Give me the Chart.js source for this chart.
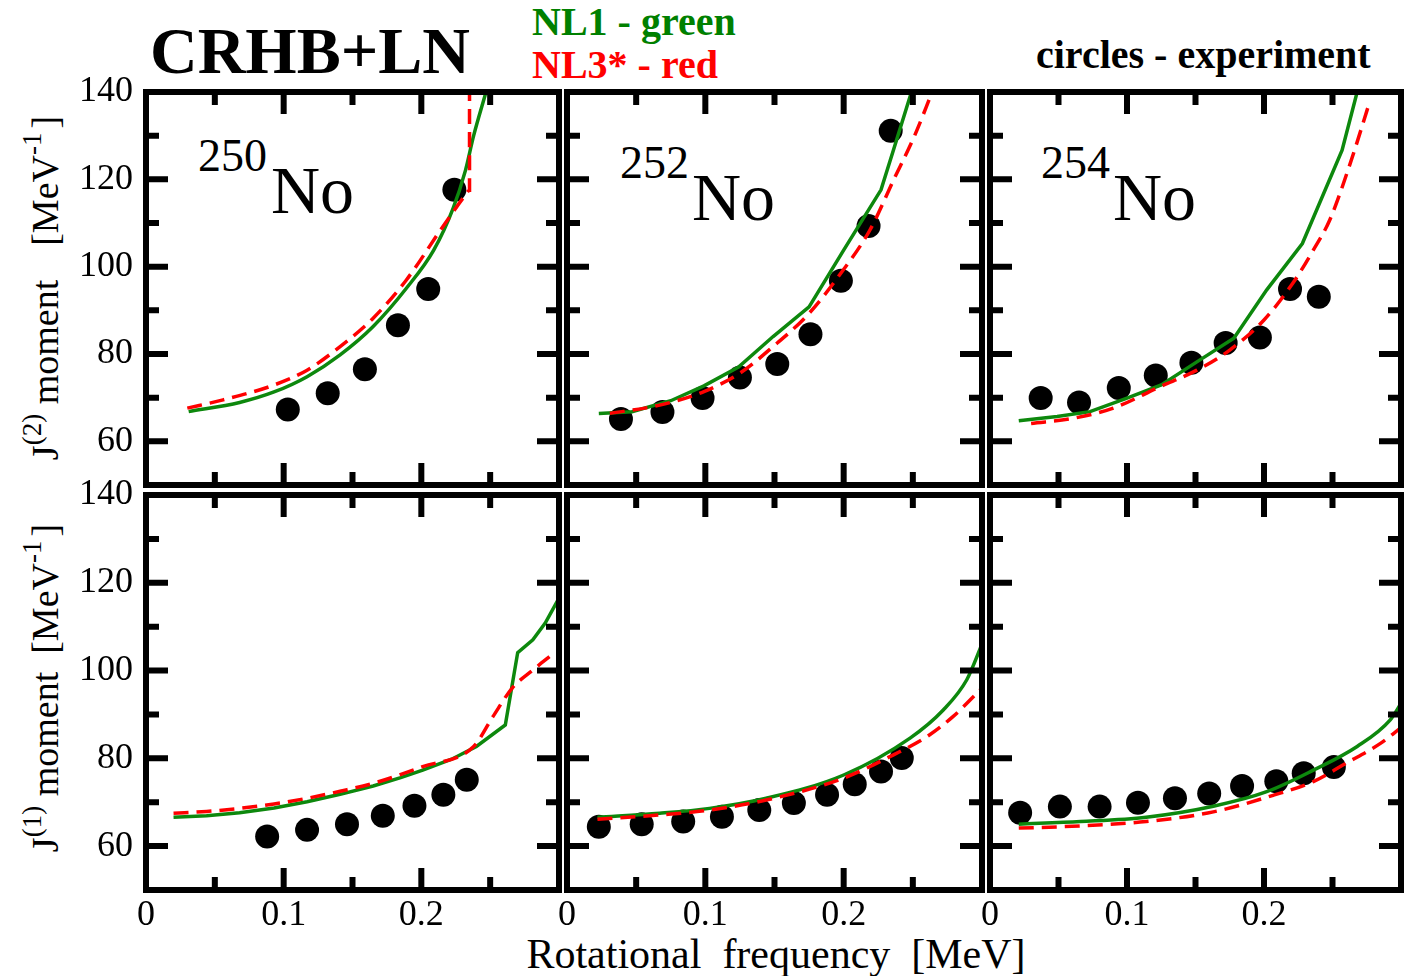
<!DOCTYPE html>
<html>
<head>
<meta charset="utf-8">
<script src="https://cdn.jsdelivr.net/npm/chart.js@4.4.1/dist/chart.umd.min.js"></script>
<style>
  html, body { margin: 0; padding: 0; background: #fff; }
  body { width: 1404px; height: 976px; overflow: hidden; position: relative;
         font-family: "Liberation Serif", "DejaVu Serif", serif; color: #000; }
  canvas { position: absolute; }
  .t { position: absolute; white-space: nowrap; line-height: 1; }
  .b { font-weight: bold; }
  .sup { font-size: 27px; line-height: 0; vertical-align: 17px; }
  .gap { display: inline-block; }
</style>
</head>
<body>

<div class="t b" style="left:150px; top:17.7px; font-size:66px;">CRHB+LN</div>
<div class="t b" style="left:532px; top:1.5px; font-size:40px; color:#008000;">NL1 - green</div>
<div class="t b" style="left:532px; top:44.5px; font-size:40px; color:#ff0000;">NL3* - red</div>
<div class="t b" style="left:1036px; top:34.5px; font-size:40px;">circles - experiment</div>

<div class="t" style="left:198px; top:132.6px; font-size:46px;">250</div>
<div class="t" style="left:271px; top:156px; font-size:68px;">No</div>
<div class="t" style="left:620px; top:139.6px; font-size:46px;">252</div>
<div class="t" style="left:692px; top:163px; font-size:68px;">No</div>
<div class="t" style="left:1041px; top:139.6px; font-size:46px;">254</div>
<div class="t" style="left:1113px; top:163px; font-size:68px;">No</div>

<div class="t" style="left:45px; top:288px; font-size:38px; transform:translate(-50%,-50%) rotate(-90deg);">J<span class="sup">(2)</span>&nbsp;moment<span class="gap" style="width:34px"></span>[MeV<span class="sup">-1</span><span class="gap" style="width:4px"></span>]</div>
<div class="t" style="left:45px; top:688px; font-size:38px; transform:translate(-50%,-50%) rotate(-90deg);">J<span class="sup">(1)</span>&nbsp;moment<span class="gap" style="width:18px"></span>[MeV<span class="sup">-1</span><span class="gap" style="width:4px"></span>]</div>

<div class="t" style="left:776px; top:932.8px; font-size:42px; transform:translateX(-50%);">Rotational&nbsp; frequency&nbsp; [MeV]</div>

<script>
// Axis ticks
const xTicks = [0, 0.1, 0.2];
const yTicks = [60, 80, 100, 120, 140];
const xMajor = [0.1, 0.2];
const xMinor = [0.05, 0.15, 0.25];
const yMajor = [60, 80, 100, 120];
const yMinor = [70, 90, 110, 130];

// 250No, J(2)
const no250J2ExpW = [0.103, 0.132, 0.159, 0.183, 0.205, 0.224];
const no250J2Exp  = [67.3, 71.0, 76.5, 86.6, 94.9, 117.6];
const no250J2Nl1W = [0.031, 0.068, 0.093, 0.117, 0.141, 0.165, 0.189, 0.209, 0.223, 0.232, 0.238, 0.247];
const no250J2Nl1  = [66.8, 68.9, 71.3, 74.8, 79.8, 86.3, 95.0, 103.8, 113.3, 122.0, 130.0, 140];
const no250J2Nl3W = [0.030, 0.056, 0.093, 0.117, 0.141, 0.165, 0.189, 0.214, 0.232, 0.235, 0.235];
const no250J2Nl3  = [67.6, 69.5, 72.9, 76.3, 81.7, 88.2, 96.9, 108.4, 116.4, 117.5, 140];

// 252No, J(2)
const no252J2ExpW = [0.039, 0.069, 0.098, 0.125, 0.152, 0.176, 0.198, 0.218, 0.234];
const no252J2Exp  = [65.1, 66.7, 69.9, 74.6, 77.7, 84.5, 96.8, 109.3, 131.1];
const no252J2Nl1W = [0.023, 0.047, 0.075, 0.099, 0.124, 0.149, 0.175, 0.200, 0.227, 0.236, 0.249];
const no252J2Nl1  = [66.4, 66.8, 69.3, 72.7, 77.0, 84.0, 90.8, 103.8, 117.6, 126.7, 140];
const no252J2Nl3W = [0.031, 0.067, 0.099, 0.125, 0.149, 0.175, 0.197, 0.219, 0.236, 0.251, 0.264];
const no252J2Nl3  = [66.4, 68.3, 71.4, 75.6, 81.7, 89.3, 98.1, 108.4, 119.8, 129.8, 140];

// 254No, J(2)
const no254J2ExpW = [0.037, 0.065, 0.094, 0.121, 0.147, 0.172, 0.197, 0.219, 0.240];
const no254J2Exp  = [69.9, 68.9, 72.2, 75.1, 78.0, 82.5, 83.8, 94.9, 93.1];
const no254J2Nl1W = [0.021, 0.049, 0.073, 0.100, 0.125, 0.151, 0.178, 0.202, 0.228, 0.257, 0.268];
const no254J2Nl1  = [64.7, 65.7, 66.8, 69.9, 72.9, 78.2, 83.6, 94.7, 105.3, 126.7, 140];
const no254J2Nl3W = [0.030, 0.061, 0.090, 0.124, 0.151, 0.175, 0.200, 0.221, 0.236, 0.248, 0.263, 0.276];
const no254J2Nl3  = [64.1, 65.3, 67.6, 72.5, 76.3, 80.9, 87.8, 96.2, 103.8, 110.7, 123.7, 136.6];

// 250No, J(1)
const no250J1ExpW = [0.088, 0.117, 0.146, 0.172, 0.195, 0.216, 0.233];
const no250J1Exp  = [62.2, 63.7, 65.0, 66.9, 69.2, 71.7, 75.1];
const no250J1Nl1W = [0.020, 0.044, 0.068, 0.093, 0.117, 0.141, 0.165, 0.185, 0.201, 0.222, 0.240, 0.261, 0.270, 0.281, 0.290, 0.300];
const no250J1Nl1  = [66.6, 66.9, 67.6, 68.7, 70.1, 71.8, 73.7, 75.6, 77.3, 79.8, 82.7, 87.6, 104.1, 107.0, 110.8, 116.5];
const no250J1Nl3W = [0.020, 0.044, 0.068, 0.093, 0.117, 0.141, 0.165, 0.201, 0.238, 0.252, 0.266, 0.281, 0.296];
const no250J1Nl3  = [67.5, 67.9, 68.6, 69.6, 70.9, 72.5, 74.3, 78.1, 82.7, 89.5, 96.0, 100.1, 103.9];

// 252No, J(1)
const no252J1ExpW = [0.023, 0.054, 0.084, 0.112, 0.139, 0.164, 0.188, 0.208, 0.227, 0.242];
const no252J1Exp  = [64.4, 65.0, 65.6, 66.7, 68.2, 69.8, 71.7, 74.1, 77.0, 80.1];
const no252J1Nl1W = [0.022, 0.067, 0.103, 0.144, 0.200, 0.248, 0.272, 0.289, 0.300];
const no252J1Nl1  = [66.6, 67.5, 68.6, 70.9, 76.2, 84.6, 91.0, 97.9, 106.0];
const no252J1Nl3W = [0.022, 0.067, 0.103, 0.144, 0.200, 0.236, 0.260, 0.279, 0.300];
const no252J1Nl3  = [66.1, 67.1, 68.2, 70.5, 75.5, 80.8, 84.9, 89.5, 96.0];

// 254No, J(1)
const no254J1ExpW = [0.022, 0.051, 0.080, 0.108, 0.135, 0.160, 0.184, 0.209, 0.229, 0.251];
const no254J1Exp  = [67.6, 69.0, 69.0, 69.9, 70.9, 72.0, 73.7, 74.8, 76.6, 78.0];
const no254J1Nl1W = [0.021, 0.066, 0.114, 0.163, 0.202, 0.236, 0.268, 0.292, 0.300];
const no254J1Nl1  = [65.0, 65.6, 66.6, 69.1, 72.4, 77.3, 82.7, 88.7, 92.5];
const no254J1Nl3W = [0.021, 0.066, 0.114, 0.163, 0.207, 0.236, 0.260, 0.285, 0.300];
const no254J1Nl3  = [64.1, 64.6, 65.6, 67.8, 71.6, 74.7, 78.9, 83.4, 87.0];

// Page layout of the six plot frames (pixels)
const COLS = [[146, 559], [567, 982], [990, 1401]];
const ROWS = [[92, 485], [495, 890]];
const M = { left: 80, right: 40, top: 40, bottom: 60 };

const GREEN = '#0d880d';
const RED = '#ff0000';
const FONT = '"Liberation Serif", "DejaVu Serif", serif';

// smooth1 / smooth3: draw the NL1 / NL3* curve with monotone smoothing
const panels = [
  { row: 0, col: 0, exp: [no250J2ExpW, no250J2Exp], nl1: [no250J2Nl1W, no250J2Nl1], nl3: [no250J2Nl3W, no250J2Nl3], smooth1: true,  smooth3: true },
  { row: 0, col: 1, exp: [no252J2ExpW, no252J2Exp], nl1: [no252J2Nl1W, no252J2Nl1], nl3: [no252J2Nl3W, no252J2Nl3], smooth1: false, smooth3: true },
  { row: 0, col: 2, exp: [no254J2ExpW, no254J2Exp], nl1: [no254J2Nl1W, no254J2Nl1], nl3: [no254J2Nl3W, no254J2Nl3], smooth1: false, smooth3: true },
  { row: 1, col: 0, exp: [no250J1ExpW, no250J1Exp], nl1: [no250J1Nl1W, no250J1Nl1], nl3: [no250J1Nl3W, no250J1Nl3], smooth1: false, smooth3: true },
  { row: 1, col: 1, exp: [no252J1ExpW, no252J1Exp], nl1: [no252J1Nl1W, no252J1Nl1], nl3: [no252J1Nl3W, no252J1Nl3], smooth1: true,  smooth3: true },
  { row: 1, col: 2, exp: [no254J1ExpW, no254J1Exp], nl1: [no254J1Nl1W, no254J1Nl1], nl3: [no254J1Nl3W, no254J1Nl3], smooth1: true,  smooth3: true },
];

const pts = ([w, v]) => w.map((x, i) => ({ x: x, y: v[i] }));
const curve = smooth => (smooth ? { cubicInterpolationMode: 'monotone' } : { tension: 0 });

// Thick frame with inward major/minor ticks on all four sides
const framePlugin = {
  id: 'frame',
  afterDatasetsDraw(chart) {
    const { ctx, chartArea: a, scales: { x, y } } = chart;
    const LMAJ = 22, LMIN = 13;
    ctx.save();
    ctx.strokeStyle = '#000';
    ctx.lineCap = 'butt';
    ctx.lineWidth = 6;
    ctx.beginPath();
    const xt = (vals, len) => vals.forEach(v => {
      const px = x.getPixelForValue(v);
      ctx.moveTo(px, a.top); ctx.lineTo(px, a.top + len);
      ctx.moveTo(px, a.bottom); ctx.lineTo(px, a.bottom - len);
    });
    const yt = (vals, len) => vals.forEach(v => {
      const py = y.getPixelForValue(v);
      ctx.moveTo(a.left, py); ctx.lineTo(a.left + len, py);
      ctx.moveTo(a.right, py); ctx.lineTo(a.right - len, py);
    });
    xt(xMajor, LMAJ); xt(xMinor, LMIN);
    yt(yMajor, LMAJ); yt(yMinor, LMIN);
    ctx.stroke();
    ctx.strokeRect(a.left, a.top, a.right - a.left, a.bottom - a.top);
    ctx.restore();
  }
};

panels.forEach(p => {
  const [l, r] = COLS[p.col];
  const [t, b] = ROWS[p.row];
  const cv = document.createElement('canvas');
  cv.width = (r - l) + M.left + M.right;
  cv.height = (b - t) + M.top + M.bottom;
  cv.style.left = (l - M.left) + 'px';
  cv.style.top = (t - M.top) + 'px';
  document.body.appendChild(cv);

  new Chart(cv, {
    type: 'scatter',
    data: {
      datasets: [
        Object.assign({ label: 'NL3*', data: pts(p.nl3), showLine: true, borderColor: RED, borderWidth: 3.5,
          borderDash: [15, 8], pointRadius: 0, fill: false }, curve(p.smooth3)),
        Object.assign({ label: 'NL1', data: pts(p.nl1), showLine: true, borderColor: GREEN, borderWidth: 3.5,
          pointRadius: 0, fill: false }, curve(p.smooth1)),
        { label: 'experiment', data: pts(p.exp), showLine: false, pointRadius: 12,
          pointBackgroundColor: '#000', pointBorderColor: '#000', pointBorderWidth: 0 }
      ]
    },
    options: {
      responsive: false,
      animation: false,
      devicePixelRatio: 1,
      layout: { padding: { top: M.top, right: M.right, left: 0, bottom: 0 } },
      plugins: { legend: { display: false }, tooltip: { enabled: false } },
      scales: {
        x: {
          type: 'linear', min: 0, max: 0.3,
          grid: { display: false, drawTicks: false },
          border: { display: false },
          afterBuildTicks: s => { s.ticks = xTicks.map(v => ({ value: v })); },
          afterFit: s => { s.height = M.bottom; },
          ticks: {
            display: p.row === 1, color: '#000', padding: 4, maxRotation: 0, autoSkip: false,
            font: { family: FONT, size: 36 },
            callback: v => (v === 0 ? '0' : String(v))
          }
        },
        y: {
          type: 'linear', min: 50, max: 140,
          grid: { display: false, drawTicks: false },
          border: { display: false },
          afterBuildTicks: s => { s.ticks = yTicks.map(v => ({ value: v })); },
          afterFit: s => { s.width = M.left; },
          ticks: {
            display: p.col === 0, color: '#000', padding: 13, autoSkip: false,
            font: { family: FONT, size: 36 }
          }
        }
      }
    },
    plugins: [framePlugin]
  });
});
</script>
</body>
</html>
